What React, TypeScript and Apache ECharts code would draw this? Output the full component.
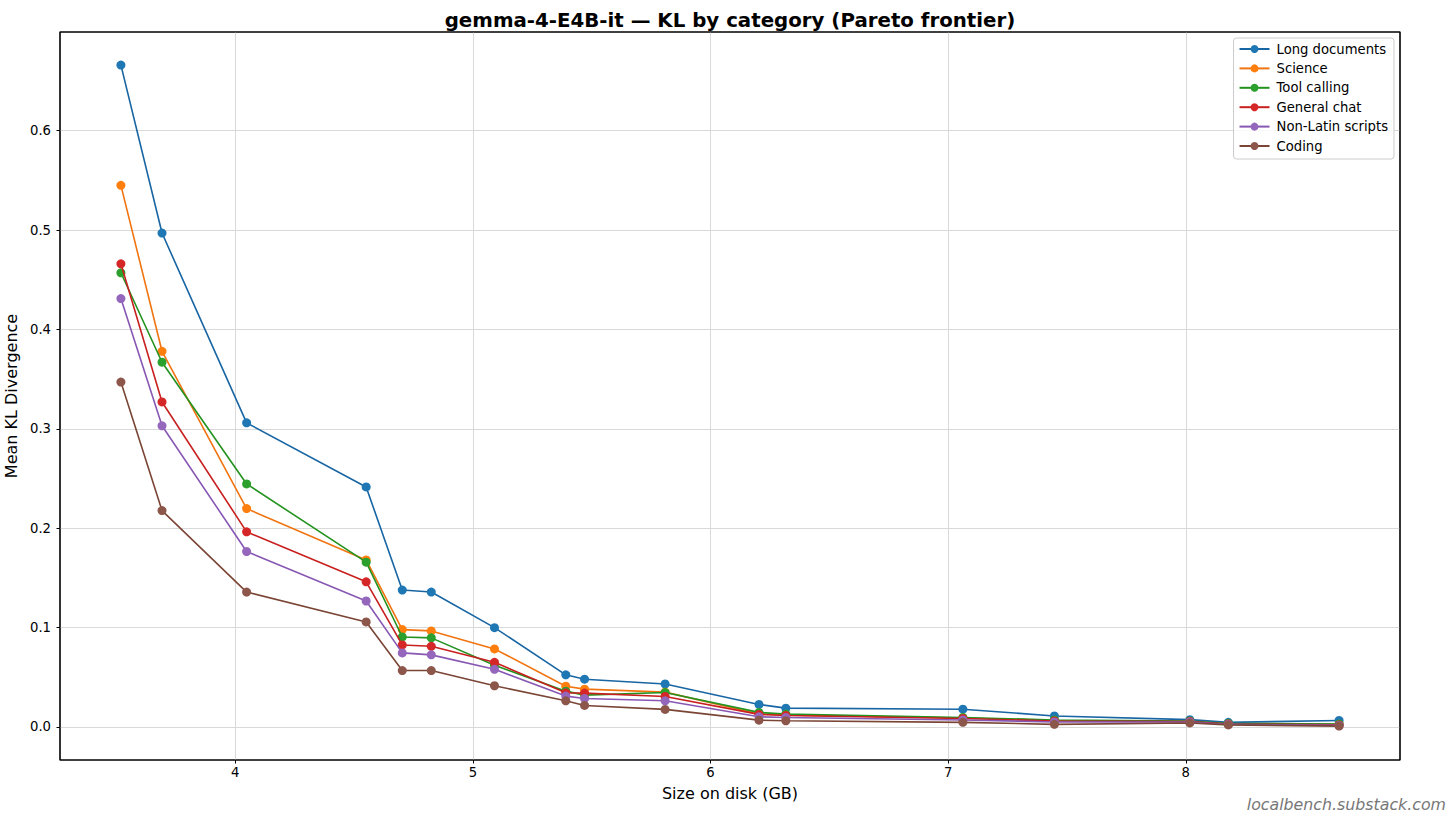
import React, { useEffect, useRef } from "react";
import * as echarts from "echarts";

const sizesGB = [3.519, 3.692, 4.048, 4.551, 4.703, 4.825, 5.091, 5.391, 5.47, 5.809, 6.204, 6.317, 7.062, 7.447, 8.017, 8.179, 8.645];

const longDocuments = [0.666, 0.497, 0.306, 0.2415, 0.1377, 0.1357, 0.0999, 0.0524, 0.048, 0.0432, 0.0226, 0.0189, 0.0178, 0.011, 0.0073, 0.0046, 0.0065];
const science = [0.545, 0.378, 0.2197, 0.168, 0.0979, 0.0966, 0.0785, 0.041, 0.038, 0.035, 0.013, 0.012, 0.009, 0.0065, 0.0055, 0.003, 0.0025];
const toolCalling = [0.457, 0.367, 0.2445, 0.1658, 0.0905, 0.0896, 0.062, 0.036, 0.032, 0.0346, 0.0146, 0.0129, 0.0095, 0.007, 0.006, 0.0035, 0.003];
const generalChat = [0.466, 0.327, 0.1963, 0.146, 0.0825, 0.0811, 0.065, 0.0343, 0.034, 0.0306, 0.0126, 0.0115, 0.0085, 0.006, 0.0055, 0.003, 0.002];
const nonLatinScripts = [0.431, 0.303, 0.1765, 0.1267, 0.0745, 0.0725, 0.058, 0.031, 0.0286, 0.0263, 0.0102, 0.0095, 0.007, 0.005, 0.005, 0.0025, 0.0015];
const coding = [0.347, 0.2177, 0.1357, 0.1056, 0.0567, 0.0567, 0.0414, 0.0263, 0.0216, 0.0176, 0.0068, 0.0062, 0.0046, 0.0026, 0.004, 0.002, 0.0008];

const seriesNames = ["Long documents", "Science", "Tool calling", "General chat", "Non-Latin scripts", "Coding"];
const seriesValues = [longDocuments, science, toolCalling, generalChat, nonLatinScripts, coding];
const markerColors = ["#1f77b4", "#ff7f0e", "#2ca02c", "#d62728", "#9467bd", "#8c564b"];
const lineColors = ["#1865a3", "#f07410", "#23921f", "#c81f1f", "#8757b3", "#7a4535"];

const FONT = "DejaVu Sans";

export default function App() {
  const ref = useRef<HTMLDivElement>(null);

  useEffect(() => {
    document.body.style.margin = "0";
    const chart = echarts.init(ref.current!, null, { renderer: "svg" });
    const xMin = 3.2627;
    const xMax = 8.9013;
    const yMin = -0.0333;
    const yMax = 0.6993;

    chart.setOption({
      animation: false,
      backgroundColor: "#ffffff",
      title: {
        text: "gemma-4-E4B-it — KL by category (Pareto frontier)",
        left: 725,
        top: 5,
        textAlign: "center",
        textStyle: { fontFamily: FONT, fontSize: 19.8, fontWeight: "bold", color: "#000" },
      },
      grid: {
        left: 60,
        right: 56,
        top: 32,
        bottom: 61,
        show: true,
        borderColor: "#000",
        borderWidth: 1,
        backgroundColor: "#fff",
        containLabel: false,
        outerBoundsMode: "none",
      },
      legend: {
        orient: "vertical",
        right: 62,
        top: 38,
        padding: [3, 6, 5, 5],
        itemGap: 3.4,
        itemWidth: 30,
        itemHeight: 10,
        borderColor: "#cccccc",
        borderWidth: 1,
        borderRadius: 3,
        backgroundColor: "rgba(255,255,255,0.8)",
        data: seriesNames,
        textStyle: { fontFamily: FONT, fontSize: 13.2, lineHeight: 16, color: "#000", padding: [0, 0, 0, 2] },
      },
      xAxis: {
        type: "value",
        min: xMin,
        max: xMax,
        splitNumber: 5,
        name: "Size on disk (GB)",
        nameLocation: "middle",
        nameGap: 25,
        nameTextStyle: { fontFamily: FONT, fontSize: 16, color: "#000" },
        axisLine: { show: false, onZero: false },
        axisTick: { show: true, inside: false, length: 3.5, lineStyle: { color: "#000", width: 1 } },
        axisLabel: {
          showMinLabel: false,
          showMaxLabel: false,
          fontFamily: FONT,
          fontSize: 13.2,
          color: "#000",
          margin: 6,
          formatter: (v: number) => (Math.abs(v - Math.round(v)) < 1e-6 ? String(Math.round(v)) : ""),
        },
        splitLine: { show: true, showMinLine: false, showMaxLine: false, lineStyle: { color: "#d9d9d9", width: 1 } },
      },
      yAxis: {
        type: "value",
        min: yMin,
        max: yMax,
        splitNumber: 7,
        name: "Mean KL Divergence",
        nameLocation: "middle",
        nameGap: 33,
        nameTextStyle: { fontFamily: FONT, fontSize: 16, color: "#000" },
        axisLine: { show: false, onZero: false },
        axisTick: { show: true, inside: false, length: 3.5, lineStyle: { color: "#000", width: 1 } },
        axisLabel: {
          showMinLabel: false,
          showMaxLabel: false,
          fontFamily: FONT,
          fontSize: 13.2,
          color: "#000",
          margin: 9,
          formatter: (v: number) => v.toFixed(1),
        },
        splitLine: { show: true, showMinLine: false, showMaxLine: false, lineStyle: { color: "#d9d9d9", width: 1 } },
      },
      graphic: [
        {
          type: "rect",
          z: 100,
          silent: true,
          shape: { x: 60, y: 32, width: 1340, height: 728 },
          style: { fill: "none", stroke: "#000", lineWidth: 1.2 },
        },
        {
          type: "text",
          right: 10,
          bottom: 9,
          style: {
            text: "localbench.substack.com",
            fontFamily: FONT,
            fontSize: 15.8,
            fontStyle: "italic",
            fill: "#777777",
          },
        },
      ],
      series: seriesNames.map((name, i) => ({
        name,
        type: "line",
        data: sizesGB.map((x, j) => [x, seriesValues[i][j]]),
        symbol: "circle",
        symbolSize: 9,
        showSymbol: true,
        clip: false,
        lineStyle: { color: lineColors[i], width: 1.6 },
        itemStyle: { color: markerColors[i], borderWidth: 0 },
        emphasis: { disabled: true },
        z: 2 + i,
      })),
    });
    return () => chart.dispose();
  }, []);

  return <div ref={ref} style={{ width: 1456, height: 821 }} />;
}
